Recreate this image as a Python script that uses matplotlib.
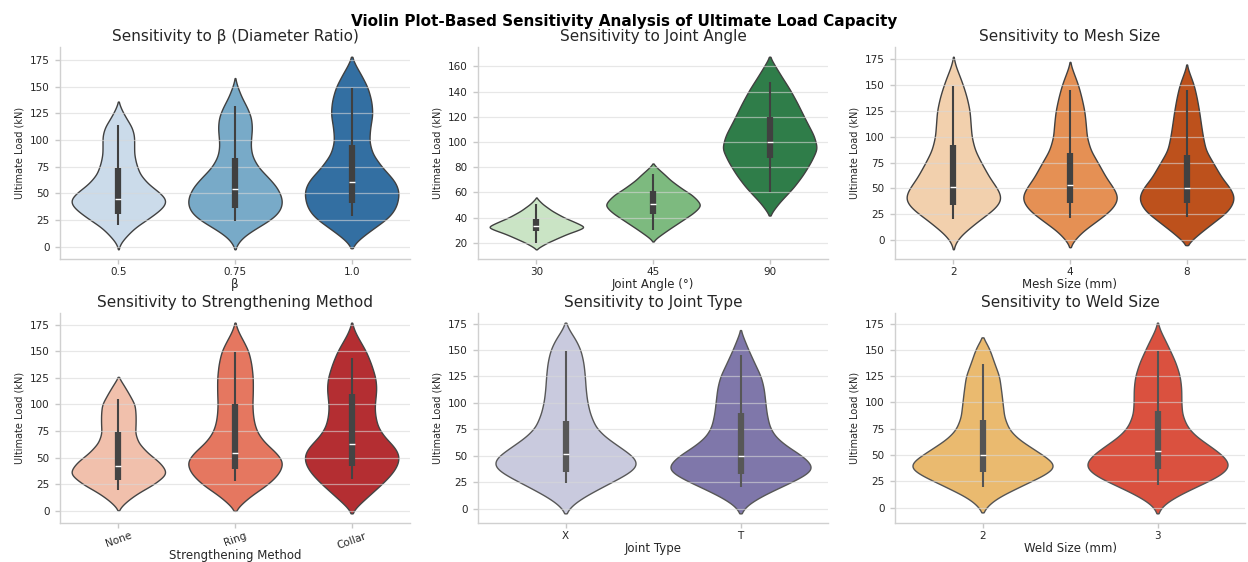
import numpy as np
import matplotlib
matplotlib.use("Agg")
import matplotlib.pyplot as plt
import seaborn as sns
import colorsys

# ---------------- data ----------------
beta_cats = ["0.5", "0.75", "1.0"]
beta_prof_y = [
    [-2.5, 3, 9.5, 15, 19, 24, 28, 34, 39, 44, 50, 59, 68, 78, 87, 96, 104, 112, 120, 128, 136],
    [-2.5, 3, 9.5, 15.5, 20, 25, 31, 36, 42, 48, 56, 65, 74, 84, 93, 102, 111, 121, 130, 140, 150, 158],
    [-1.5, 3, 7, 12, 18.6, 28, 37, 44, 50, 56, 62, 68, 74, 87, 99, 111, 124, 136, 149, 161, 170, 178],
]
beta_prof_w = [
    [0, 0.04, 0.16, 0.28, 0.38, 0.55, 0.68, 0.86, 0.97, 1.0, 0.88, 0.62, 0.45, 0.37, 0.33, 0.33, 0.33, 0.28, 0.17, 0.07, 0],
    [0, 0.05, 0.18, 0.38, 0.55, 0.74, 0.9, 0.97, 1.0, 0.97, 0.88, 0.7, 0.5, 0.37, 0.33, 0.34, 0.36, 0.34, 0.26, 0.14, 0.05, 0],
    [0, 0.06, 0.16, 0.3, 0.51, 0.8, 0.94, 0.98, 1.0, 0.97, 0.9, 0.78, 0.65, 0.44, 0.37, 0.39, 0.44, 0.42, 0.34, 0.2, 0.08, 0],
]
beta_box = [[20, 31, 45, 74, 114], [24, 36, 54, 83, 132], [29, 41, 61, 95, 149]]

angle_cats = ["30", "45", "90"]
angle_prof_y = [
    [14.8, 17, 20, 24, 27.3, 30, 32.5, 35, 37.7, 40, 42.9, 45.5, 48, 50.5, 53, 56],
    [21, 24, 27.3, 31, 35, 39, 43, 46.5, 50, 54, 58.5, 62, 66, 70, 74, 79, 83],
    [41.6, 45, 48, 52, 56, 64, 74, 84.5, 95, 105, 118, 131, 142, 152, 160, 167.8],
]
angle_prof_w = [
    [0, 0.08, 0.22, 0.45, 0.65, 0.85, 1.0, 0.88, 0.72, 0.58, 0.44, 0.32, 0.23, 0.14, 0.07, 0],
    [0, 0.08, 0.2, 0.34, 0.5, 0.66, 0.82, 0.93, 1.0, 0.93, 0.8, 0.65, 0.5, 0.36, 0.25, 0.1, 0],
    [0, 0.06, 0.12, 0.2, 0.3, 0.5, 0.7, 0.87, 1.0, 0.93, 0.75, 0.58, 0.42, 0.25, 0.12, 0],
]
angle_box = [[20, 29, 33, 39, 51], [30, 43, 51, 61, 75], [60, 87, 100, 120, 148]]

mesh_cats = ["2", "4", "8"]
mesh_prof_y = [
    [-9, -4, 0, 5, 9.5, 14, 19, 24, 28.6, 34, 40, 46, 51, 60, 75, 87, 100, 112, 125, 138, 150, 160, 168, 177.5],
    [-7, -3, 0, 5, 10, 14, 19, 24, 29, 35, 41, 46, 51, 60, 75, 87, 100, 112, 125, 138, 150, 160, 166, 172.5],
    [-5, -2, 0, 5, 10, 14, 19, 24, 29, 35, 41, 46, 51, 60, 75, 87, 100, 112, 125, 138, 150, 160, 165, 170],
]
mesh_prof_w = [
    [0, 0.03, 0.08, 0.17, 0.28, 0.4, 0.53, 0.68, 0.81, 0.93, 1.0, 0.96, 0.9, 0.76, 0.58, 0.45, 0.38, 0.36, 0.34, 0.28, 0.2, 0.12, 0.05, 0],
    [0, 0.04, 0.09, 0.19, 0.3, 0.43, 0.57, 0.72, 0.85, 0.95, 1.0, 0.96, 0.9, 0.76, 0.58, 0.43, 0.35, 0.33, 0.3, 0.24, 0.17, 0.09, 0.04, 0],
    [0, 0.05, 0.11, 0.23, 0.36, 0.48, 0.61, 0.76, 0.88, 0.96, 1.0, 0.96, 0.9, 0.74, 0.55, 0.4, 0.34, 0.3, 0.26, 0.21, 0.15, 0.07, 0.03, 0],
]
mesh_box = [[20, 34, 51, 92, 149], [21, 36, 53, 84, 145], [22, 36, 50, 82, 145]]

method_cats = ["None", "Ring", "Collar"]
method_prof_y = [
    [0.5, 3, 6, 10, 15, 20, 24, 30, 35, 40, 46, 55, 64, 73, 82, 91, 100, 110, 119, 126],
    [0, 3, 6, 10, 15, 20, 24, 30, 36.5, 46, 55, 64, 73, 82, 91, 100, 112, 125, 138, 150, 160, 168, 177],
    [-2.4, 0, 3, 7, 12, 18, 24, 30, 36.5, 43, 50, 56, 61, 70, 79, 88, 97, 106, 115, 125, 138, 150, 160, 168, 177],
]
method_prof_w = [
    [0, 0.04, 0.1, 0.2, 0.35, 0.53, 0.7, 0.88, 1.0, 0.96, 0.85, 0.6, 0.42, 0.35, 0.36, 0.36, 0.34, 0.22, 0.1, 0],
    [0, 0.05, 0.12, 0.22, 0.35, 0.52, 0.65, 0.8, 0.93, 1.0, 0.85, 0.62, 0.47, 0.4, 0.37, 0.36, 0.37, 0.37, 0.34, 0.28, 0.17, 0.07, 0],
    [0, 0.03, 0.08, 0.18, 0.3, 0.45, 0.6, 0.74, 0.87, 0.96, 1.0, 0.96, 0.88, 0.68, 0.55, 0.5, 0.48, 0.5, 0.52, 0.5, 0.41, 0.3, 0.17, 0.07, 0],
]
method_box = [[20, 29, 42, 74, 105], [28, 39, 54, 100, 149], [30, 42, 63, 110, 144]]

jtype_cats = ["X", "T"]
jtype_prof_y = [
    [-4.6, 0, 4, 8, 13, 17, 22, 27, 31.5, 36, 41, 46, 50, 59, 68, 77, 90, 102, 114, 125, 138, 150, 160, 168, 176],
    [-4.6, 0, 4, 8, 13, 17, 22, 27, 31.5, 35, 39, 45, 50, 59, 68, 77.5, 90, 102, 114, 125, 138, 150, 160, 169],
]
jtype_prof_w = [
    [0, 0.05, 0.1, 0.19, 0.3, 0.42, 0.55, 0.7, 0.82, 0.93, 1.0, 0.98, 0.93, 0.74, 0.55, 0.42, 0.34, 0.3, 0.28, 0.27, 0.25, 0.21, 0.14, 0.06, 0],
    [0, 0.05, 0.1, 0.2, 0.32, 0.45, 0.6, 0.76, 0.88, 0.96, 1.0, 0.93, 0.85, 0.64, 0.48, 0.4, 0.36, 0.34, 0.32, 0.28, 0.19, 0.11, 0.05, 0],
]
jtype_box = [[24, 35, 52, 83, 149], [20, 33, 50, 90, 145]]

weld_cats = ["2", "3"]
weld_prof_y = [
    [-4.6, 0, 4, 8, 13, 17, 22, 27, 31, 38, 43, 47, 56, 65, 74, 86, 98, 110, 125, 138, 150, 157, 162],
    [-5.5, 0, 4, 8, 13, 17, 22, 27, 31, 36, 41, 46, 50, 59, 68, 77, 89, 101, 113, 125, 138, 150, 160, 168, 176],
]
weld_prof_w = [
    [0, 0.05, 0.1, 0.18, 0.3, 0.43, 0.57, 0.73, 0.85, 1.0, 0.97, 0.9, 0.7, 0.5, 0.37, 0.3, 0.28, 0.26, 0.23, 0.16, 0.1, 0.05, 0],
    [0, 0.05, 0.1, 0.2, 0.32, 0.45, 0.6, 0.76, 0.87, 0.96, 1.0, 0.95, 0.9, 0.72, 0.53, 0.41, 0.34, 0.33, 0.33, 0.31, 0.25, 0.17, 0.1, 0.04, 0],
]
weld_box = [[20, 34, 50, 83, 137], [22, 37, 54, 92, 149]]

titles = ["Sensitivity to β (Diameter Ratio)", "Sensitivity to Joint Angle", "Sensitivity to Mesh Size",
          "Sensitivity to Strengthening Method", "Sensitivity to Joint Type", "Sensitivity to Weld Size"]
xlabels = ["β", "Joint Angle (°)", "Mesh Size (mm)", "Strengthening Method", "Joint Type", "Weld Size (mm)"]
palettes = ["Blues", "Greens", "Oranges", "Reds", "Purples", "YlOrRd"]
ylabel = "Ultimate Load (kN)"
suptitle = "Violin Plot-Based Sensitivity Analysis of Ultimate Load Capacity"

panels = [
    (beta_cats, beta_prof_y, beta_prof_w, beta_box),
    (angle_cats, angle_prof_y, angle_prof_w, angle_box),
    (mesh_cats, mesh_prof_y, mesh_prof_w, mesh_box),
    (method_cats, method_prof_y, method_prof_w, method_box),
    (jtype_cats, jtype_prof_y, jtype_prof_w, jtype_box),
    (weld_cats, weld_prof_y, weld_prof_w, weld_box),
]

# ---------------- drawing ----------------
plt.rcParams["font.family"] = ["DejaVu Sans"]
TXT = "#262626"


def smooth_profile(y, w):
    y = np.asarray(y, float)
    w = np.asarray(w, float)
    sigma = 0.022 * (y[-1] - y[0])
    yy = np.linspace(y[0], y[-1], 800)
    ww = np.interp(yy, y, w)
    dy = yy[1] - yy[0]
    k = max(1, int(2.5 * sigma / dy))
    t = np.arange(-k, k + 1) * dy
    g = np.exp(-0.5 * (t / sigma) ** 2)
    g /= g.sum()
    padded = np.concatenate([np.full(k, ww[0]), ww, np.full(k, ww[-1])])
    ws = np.convolve(padded, g, mode="valid")
    ws[0] = 0
    ws[-1] = 0
    ws = ws / ws.max()
    return yy, ws


def gray_for(colors):
    lum = min(colorsys.rgb_to_hls(*c)[1] for c in colors) * 0.6
    lum = min(max(lum, 0.25), 0.34)
    return (lum, lum, lum)


fig = plt.figure(figsize=(12.48, 5.62), dpi=100)
W, H = 1248.0, 562.0
col_left = [60, 478, 895]
ax_w = 350
rows = [(47, 259), (313, 523)]

for i, (cats, prof_y, prof_w, box) in enumerate(panels):
    r, c = divmod(i, 3)
    top, bot = rows[r]
    ax = fig.add_axes([col_left[c] / W, 1 - bot / H, ax_w / W, (bot - top) / H])
    n = len(cats)
    pal = sns.color_palette(palettes[i], n)
    fills = [sns.desaturate(col, 0.75) for col in pal]
    gray = gray_for(fills)
    for j in range(n):
        yy, ww = smooth_profile(prof_y[j], prof_w[j])
        ax.fill_betweenx(yy, j - 0.4 * ww, j + 0.4 * ww, facecolor=fills[j],
                         edgecolor=gray, linewidth=1.0, zorder=1)
        wlo, q1, med, q3, whi = box[j]
        ax.plot([j, j], [wlo, whi], color=gray, lw=1.5, solid_capstyle="butt", zorder=2)
        ax.plot([j, j], [q1, q3], color=gray, lw=4.5, solid_capstyle="butt", zorder=2)
        ax.plot([j], [med], marker="_", ms=4.5, mew=1.0, color="white", zorder=3)
    ax.set_xlim(-0.5, n - 0.5)
    ax.margins(y=0.05)
    ax.set_xticks(range(n))
    if i == 3:
        ax.set_xticklabels(cats, rotation=20)
    else:
        ax.set_xticklabels(cats)
    ax.set_axisbelow("line")
    ax.yaxis.grid(True, color="#d8d8d8", alpha=0.6, lw=0.9)
    ax.xaxis.grid(False)
    for s in ["top", "right"]:
        ax.spines[s].set_visible(False)
    for s in ["left", "bottom"]:
        ax.spines[s].set_color("#d0d0d0")
        ax.spines[s].set_linewidth(1.0)
    ax.tick_params(axis="both", colors="#c8c8c8", labelcolor=TXT, labelsize=7.5,
                   length=3.5, width=1.0)
    ax.tick_params(axis="x", pad=2)
    ax.tick_params(axis="y", pad=4)
    ax.set_title(titles[i], fontsize=11, color=TXT, pad=4)
    ax.set_xlabel(xlabels[i], fontsize=8.5, color=TXT, labelpad=-1 if i == 3 else 1)
    ax.set_ylabel(ylabel, fontsize=7, color=TXT, labelpad=4)

fig.suptitle(suptitle, fontsize=11, fontweight="bold", y=1 - 14 / H, color="black")
fig.savefig("out.png", dpi=100, facecolor="white")
